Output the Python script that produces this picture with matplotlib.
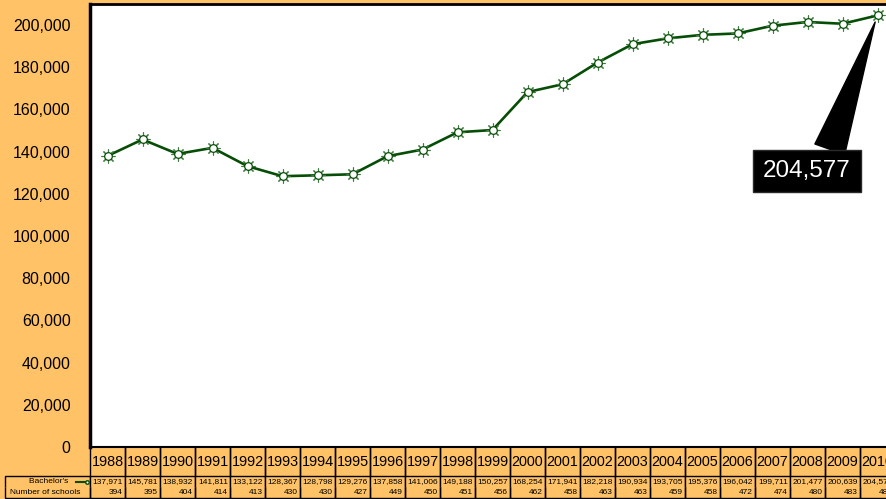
import matplotlib
matplotlib.use('Agg')
import matplotlib.pyplot as plt
from matplotlib.ticker import FuncFormatter

plt.rcParams['font.family'] = ['Liberation Sans', 'DejaVu Sans']

years = ['1988', '1989', '1990', '1991', '1992', '1993', '1994', '1995', '1996', '1997', '1998',
         '1999', '2000', '2001', '2002', '2003', '2004', '2005', '2006', '2007', '2008', '2009', '2010']
bachelors = [137971, 145781, 138932, 141811, 133122, 128367, 128798, 129276, 137858, 141006, 149188,
             150257, 168254, 171941, 182218, 190934, 193705, 195376, 196042, 199711, 201477, 200639, 204577]
schools = [394, 395, 404, 414, 413, 430, 430, 427, 449, 450, 451,
           456, 462, 458, 463, 463, 459, 458, 472, 474, 480, 483, 488]
row_labels = ["Bachelor's       ", "Number of schools"]

BG = '#FFC266'
GREEN = '#064D06'

W, H = 886, 499
fig = plt.figure(figsize=(W / 100, H / 100), dpi=100, facecolor=BG)
# plot area in pixels: left 90, top 4, bottom 447, 35px per year column
col_w, lab_w = 35, 85
ax_w, ax_h = col_w * len(years), 443
ax = fig.add_axes([90 / W, 52 / H, ax_w / W, ax_h / H])
ax.set_facecolor('white')

x = list(range(len(years)))
ax.plot(x, bachelors, color=GREEN, lw=1.9, zorder=3)
# sun-like markers: rays + hollow circle
ax.plot(x, bachelors, ls='none', marker=(8, 2, 0), ms=10, mec='#3f7a3f', mew=0.8, zorder=4)
ax.plot(x, bachelors, ls='none', marker='o', ms=5.5, mfc='white', mec=GREEN, mew=0.9, zorder=5)

ax.set_xlim(-0.5, len(years) - 0.5)
ax.set_ylim(0, 210000)
ax.set_yticks(range(0, 200001, 20000))
ax.yaxis.set_major_formatter(FuncFormatter(lambda v, p: f'{int(v):,}'))
ax.tick_params(axis='y', length=0, pad=14, labelsize=11.5)
ax.set_xticks([])
ax.spines['left'].set_linewidth(2.5)
ax.spines['top'].set_linewidth(2)
ax.spines['bottom'].set_linewidth(1.5)
ax.spines['right'].set_visible(False)

# annotation for the last value
ax.annotate(f'{bachelors[-1]:,}', xy=(x[-1], bachelors[-1]), xytext=(-51, -112),
            textcoords='offset points', ha='center', va='center', fontsize=17.5, color='white',
            bbox=dict(boxstyle='square,pad=0.42', fc='black', ec='#2a2a2a'),
            arrowprops=dict(arrowstyle='wedge,tail_width=1.3', fc='black', ec='black',
                            relpos=(0.72, 1.0), shrinkA=0, shrinkB=5),
            zorder=6)

# data table underneath (bbox covers the year columns only, row labels hang to the left)
cell_text = [[f'{v:,}' for v in bachelors], [str(v) for v in schools]]
tbl = ax.table(cellText=cell_text, rowLabels=row_labels, colLabels=years,
               colWidths=[col_w / ax_w] * len(years),
               cellLoc='right', rowLoc='left', colLoc='center',
               bbox=[0, -51 / ax_h, 1, 51 / ax_h])
tbl.auto_set_font_size(False)
tbl._autoColumns = []
for (r, c), cell in tbl.get_celld().items():
    cell.set_width((lab_w if c == -1 else col_w) / ax_w)
    cell.set_height((29 if r == 0 else 11) / ax_h)
    cell.set_facecolor(BG)
    cell.set_edgecolor('black')
    cell.set_linewidth(1)
    cell.PAD = 0.06
    if r == 0:
        cell.get_text().set_fontsize(10.4)
        cell.visible_edges = 'LR'
    else:
        cell.get_text().set_fontsize(6.0)
        cell.visible_edges = 'LRT' if r == 1 else 'LRB'
    if r == 1 and c == -1:
        cell.get_text().set_horizontalalignment('right')
        cell._loc = 'right'

# legend key next to "Bachelor's"
ax.plot([-14 / ax_w, -3 / ax_w], [-34.5 / ax_h] * 2, transform=ax.transAxes, color=GREEN,
        lw=1.5, marker='o', ms=2.5, markevery=[1], mfc='white', clip_on=False)

fig.savefig('out.png', dpi=100, facecolor=BG)
